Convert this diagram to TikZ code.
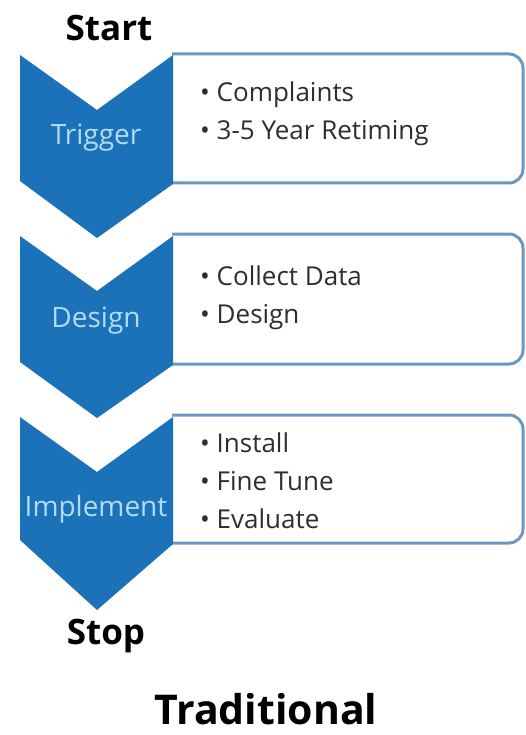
\documentclass[tikz,border=0pt]{standalone}
\usepackage{fontspec}
\setmainfont{Open Sans}
\usepackage{xcolor}
\usetikzlibrary{positioning,calc}

\begin{document}
\begin{tikzpicture}[
    x=1pt,y=-1pt,
    every node/.style={inner sep=0pt,text=color5},
    chevron/.style={fill=color1,draw=none},
    stepbox/.style={draw=color2,line width=3pt,rounded corners=14pt,fill=white},
    steplabel/.style={text=color3,font=\fontsize{28}{32}\selectfont},
    steplist/.style={anchor=west,align=left,font=\fontsize{26}{38}\selectfont},
    endpoint/.style={text=black,font=\fontsize{35}{40}\selectfont\bfseries}
  ]

  \definecolor{color1}{HTML}{1C72B8}
  \definecolor{color2}{HTML}{6A98C0}
  \definecolor{color3}{HTML}{B2DCF4}
  \definecolor{color5}{HTML}{2E2E2E}

  \useasboundingbox (0,0) rectangle (526,735);

  \node[endpoint] (start) at (109,28) {Start};

  % trigger
  \filldraw[stepbox] (172,54) -- (523,54) -- (523,183) -- (172,183);
  \fill[chevron] (20,55) -- (97,110) -- (173,55) -- (173,184) -- (97,238) -- (20,181) -- cycle;
  \node[steplabel] (trigger) at (96,138) {Trigger};
  \node[steplist] (trigger-list) at (200,114) {\textbullet\ Complaints\\\textbullet\ 3-5 Year Retiming};

  % design
  \filldraw[stepbox] (172,234) -- (523,234) -- (523,364) -- (172,364);
  \fill[chevron] (20,236) -- (97,291) -- (173,236) -- (173,365) -- (97,418) -- (20,362) -- cycle;
  \node[steplabel] (design) at (96,321) {Design};
  \node[steplist] (design-list) at (200,298) {\textbullet\ Collect Data\\\textbullet\ Design};

  % implement
  \filldraw[stepbox] (172,415) -- (523,415) -- (523,543) -- (172,543);
  \fill[chevron] (20,417) -- (97,472) -- (173,417) -- (173,544) -- (97,610) -- (20,540) -- cycle;
  \node[steplabel] (implement) at (96,509) {Implement};
  \node[steplist] (implement-list) at (200,481) {\textbullet\ Install\\\textbullet\ Fine Tune\\\textbullet\ Evaluate};

  \node[endpoint] (stop) at (106,636) {Stop};

  \node[text=black,font=\fontsize{41}{46}\selectfont\bfseries] (title) at (266,709) {Traditional};
\end{tikzpicture}
\end{document}
